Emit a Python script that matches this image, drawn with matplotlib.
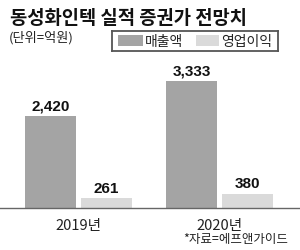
import matplotlib
matplotlib.use("Agg")
import matplotlib.pyplot as plt
from matplotlib.patches import Rectangle
from matplotlib import font_manager

categories = ["2019년", "2020년"]
sales = [2420, 3333]
op_profit = [261, 380]
sales_labels = ["2,420", "3,333"]
op_labels = ["261", "380"]
series_names = ["매출액", "영업이익"]
title = "동성화인텍 실적 증권가 전망치"
unit = "(단위=억원)"
source = "*자료=에프앤가이드"

KFONT = ["Noto Sans CJK KR", "DejaVu Sans"]
names = {f.name for f in font_manager.fontManager.ttflist}
NUMFONT = "Liberation Sans Narrow" if "Liberation Sans Narrow" in names else "Liberation Sans"

DARK = "#a4a4a4"
LIGHT = "#dadada"

W, H = 300, 251
fig = plt.figure(figsize=(W / 100, H / 100), dpi=100)
base = 209
scale = 0.0381
top = 4000
ax_h = top * scale
ax = fig.add_axes([0, (H - base) / H, 1, ax_h / H])
ax.set_ylim(0, top)
pxu = 141.0
c0 = 78.5
ax.set_xlim(-c0 / pxu, (W - c0) / pxu)

bw = 51 / pxu
off = 28 / pxu
x = list(range(len(categories)))
ax.bar([i - off for i in x], sales, width=bw, color=DARK, edgecolor="none")
ax.bar([i + off for i in x], op_profit, width=bw, color=LIGHT, edgecolor="none")

for i in x:
    ax.text(i - off, sales[i] + 90, sales_labels[i], ha="center", va="bottom",
            fontsize=11, fontweight="bold", family=NUMFONT, color="#111111")
    ax.text(i + off, op_profit[i] + 90, op_labels[i], ha="center", va="bottom",
            fontsize=11, fontweight="bold", family=NUMFONT, color="#111111")

for s in ["top", "left", "right"]:
    ax.spines[s].set_visible(False)
ax.spines["bottom"].set_color("#666666")
ax.spines["bottom"].set_linewidth(1.0)
ax.set_yticks([])
ax.set_xticks([])
ax.patch.set_alpha(0)

for i, cat in enumerate(categories):
    ax.annotate(cat, xy=(i, 0), xycoords="data", xytext=(0, -7.5), textcoords="offset points",
                ha="center", va="top", fontsize=10.5, family=KFONT, color="#222222")

fig.text(10 / W, 1 - 19 / H, title, ha="left", va="center", fontsize=13.5,
         fontweight="black", family=KFONT, color="#111111")
fig.text(9 / W, 1 - 38 / H, unit, ha="left", va="center", fontsize=9.5,
         family=KFONT, color="#222222")
fig.text(288 / W, 1 - 240 / H, source, ha="right", va="center", fontsize=9,
         family=KFONT, color="#222222")

# legend drawn in its own small axes (pixel coordinates inside the box)
lx0, ly0, lw, lh = 112, 32, 166, 20
lax = fig.add_axes([lx0 / W, 1 - (ly0 + lh) / H, lw / W, lh / H])
lax.set_xlim(0, lw)
lax.set_ylim(lh, 0)
lax.set_xticks([])
lax.set_yticks([])
for s in lax.spines.values():
    s.set_color("#555555")
    s.set_linewidth(1.3)
lax.add_patch(Rectangle((6, 4), 25, 11, facecolor=DARK, edgecolor="none"))
lax.text(33, 10, series_names[0], ha="left", va="center", fontsize=10,
         family=KFONT, color="#222222")
lax.add_patch(Rectangle((84, 4), 23, 11, facecolor=LIGHT, edgecolor="none"))
lax.text(109, 10, series_names[1], ha="left", va="center", fontsize=10,
         family=KFONT, color="#222222")

fig.savefig("out.png", dpi=100, facecolor="white")
